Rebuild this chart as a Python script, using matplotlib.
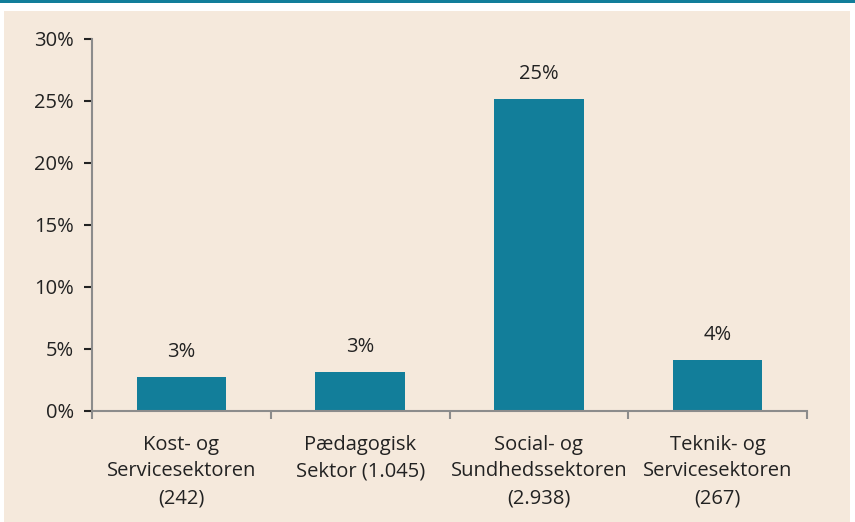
import numpy as np
import matplotlib.pyplot as plt
from matplotlib.ticker import FuncFormatter

# Data
categories = ["Kost- og\nServicesektoren\n(242)",
              "Pædagogisk\nSektor (1.045)",
              "Social- og\nSundhedssektoren\n(2.938)",
              "Teknik- og\nServicesektoren\n(267)"]
values = [2.75, 3.15, 25.15, 4.1]
labels = ["3%", "3%", "25%", "4%"]

BG = "#F5E9DC"
BAR = "#127E9A"
AXIS = "#8C8C8C"

plt.rcParams["font.family"] = ["Open Sans", "DejaVu Sans"]
plt.rcParams["font.size"] = 14.5

fig = plt.figure(figsize=(8.55, 5.22), dpi=100)
fig.patch.set_facecolor("white")

# beige panel and teal rule on top
fig.patches.append(plt.Rectangle((4 / 855, 0), 846 / 855, 1 - 11 / 522,
                                 transform=fig.transFigure, facecolor=BG,
                                 edgecolor="none", zorder=-10))
fig.patches.append(plt.Rectangle((0, 1 - 3 / 522), 1, 3 / 522,
                                 transform=fig.transFigure, facecolor=BAR,
                                 edgecolor="none", zorder=-10))

ax = fig.add_axes([92 / 855, 1 - 411 / 522, 715 / 855, 372 / 522])
ax.set_facecolor("none")
ax.set_zorder(5)

x = np.arange(len(categories))
ax.bar(x, values, width=0.5, color=BAR, zorder=2)
for xi, v, lab in zip(x, values, labels):
    ax.text(xi, v + 1.2, lab, ha="center", va="bottom", color="#222222")

ax.set_xlim(-0.5, len(categories) - 0.5)
ax.set_ylim(0, 30)
ax.set_yticks(np.arange(0, 31, 5))
ax.yaxis.set_major_formatter(FuncFormatter(lambda v, _: f"{v:.0f}%"))

# category labels centred, ticks at the boundaries
ax.set_xticks(x)
ax.set_xticklabels(categories, linespacing=1.45)
ax.tick_params(axis="x", which="major", length=0, pad=17)
ax.set_xticks(np.arange(-0.5, len(categories)), minor=True)
ax.tick_params(axis="x", which="minor", length=6, color=AXIS, width=1.5)
ax.tick_params(axis="y", length=6, color=AXIS, width=1.5, pad=7)
ax.tick_params(colors="#222222", which="major")

for s in ["top", "right"]:
    ax.spines[s].set_visible(False)
for s in ["left", "bottom"]:
    ax.spines[s].set_color(AXIS)
    ax.spines[s].set_linewidth(1.5)

fig.savefig("out.png", dpi=100, facecolor=fig.get_facecolor())
